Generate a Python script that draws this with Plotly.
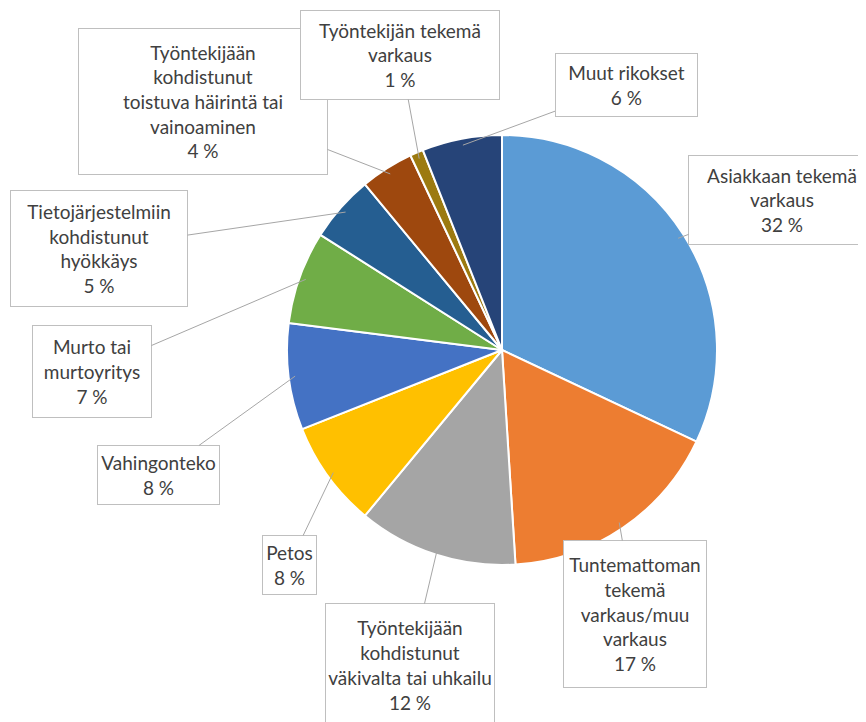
import math
import plotly.graph_objects as go

# Data (clockwise from 12 o'clock)
labels = [
    "Asiakkaan tekemä<br>varkaus",
    "Tuntemattoman<br>tekemä<br>varkaus/muu<br>varkaus",
    "Työntekijään<br>kohdistunut<br>väkivalta tai uhkailu",
    "Petos",
    "Vahingonteko",
    "Murto tai<br>murtoyritys",
    "Tietojärjestelmiin<br>kohdistunut<br>hyökkäys",
    "Työntekijään<br>kohdistunut<br>toistuva häirintä tai<br>vainoaminen",
    "Työntekijän tekemä<br>varkaus",
    "Muut rikokset",
]
values = [32, 17, 12, 8, 8, 7, 5, 4, 1, 6]
colors = ["#5B9BD5", "#ED7D31", "#A5A5A5", "#FFC000", "#4472C4",
          "#70AD47", "#255E91", "#9E480E", "#9C7A10", "#264478"]

# callout boxes: centre x, centre y, width, height (window pixels)
boxes = [
    (782, 200, 188, 90),
    (635, 614, 144, 148),
    (410, 665, 170, 124),
    (289, 565, 55, 60),
    (158, 475, 123, 60),
    (92, 371, 120, 93),
    (99, 248, 178, 117),
    (203, 101, 250, 147),
    (400, 55, 200, 90),
    (626, 85, 143, 64),
]

# the page body has an 8px margin, so the figure is shifted by that much
OFF = 8
W, H = 866 - OFF, 722 - OFF
cx, cy, r = 502 - OFF, 350 - OFF, 215

fig = go.Figure()
fig.add_trace(go.Pie(
    labels=[l.replace("<br>", " ") for l in labels],
    values=values,
    sort=False,
    direction="clockwise",
    rotation=0,
    textinfo="none",
    hoverinfo="label+percent",
    marker=dict(colors=colors, line=dict(color="white", width=2)),
    domain=dict(x=[(cx - r) / W, (cx + r) / W], y=[1 - (cy + r) / H, 1 - (cy - r) / H]),
    showlegend=False,
))

total = sum(values)
cum = 0
annotations = []
for lab, v, (bx, by, bw, bh) in zip(labels, values, boxes):
    bx, by = bx - OFF, by - OFF
    mid = (cum + v / 2) / total * 2 * math.pi
    cum += v
    tx = cx + r * 0.97 * math.sin(mid)
    ty = cy - r * 0.97 * math.cos(mid)
    annotations.append(dict(
        x=tx / W, y=1 - ty / H, xref="paper", yref="paper",
        ax=bx - tx, ay=by - ty, axref="pixel", ayref="pixel",
        text=f"{lab}<br>{v} %",
        showarrow=True, arrowhead=0, arrowwidth=1, arrowcolor="#A6A6A6",
        standoff=0,
        width=bw - 2, height=bh - 2,
        align="center", valign="middle",
        bgcolor="white", bordercolor="#BFBFBF", borderwidth=1, borderpad=0,
        font=dict(family="Lato", size=19, color="#404040"),
    ))

fig.update_layout(
    width=W, height=H,
    margin=dict(l=0, r=0, t=0, b=0),
    paper_bgcolor="white",
    annotations=annotations,
)

fig.write_html("out.html")
